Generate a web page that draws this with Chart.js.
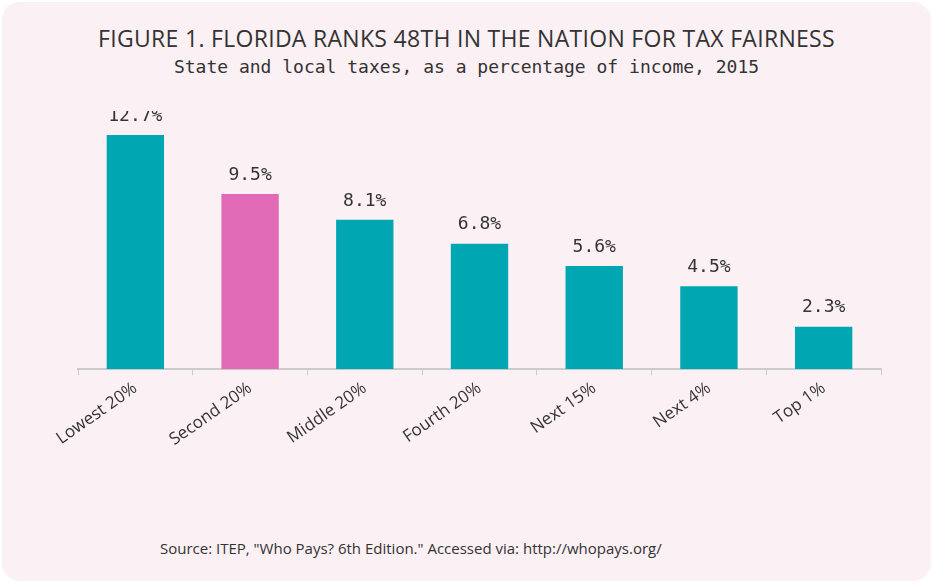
<!DOCTYPE html>
<html><head><meta charset="utf-8">
<script src="https://cdn.jsdelivr.net/npm/chart.js@4"></script>
<style>
body{margin:0;background:#fff;}
.card{position:absolute;left:2px;top:2px;width:929px;height:579px;background:#fbf0f3;border-radius:18px;}
h1{position:absolute;top:22px;left:0;width:100%;text-align:center;margin:0;font:500 23px "Open Sans",sans-serif;color:#333;letter-spacing:0.3px}
h2{position:absolute;top:56px;left:0;width:100%;text-align:center;margin:0;font:400 18px "DejaVu Sans Mono",monospace;color:#333}
.src{position:absolute;top:538px;left:160px;font:15px "Open Sans",sans-serif;color:#333}
#wrap{position:absolute;left:0;top:111px;width:933px;height:342px}
</style></head><body>
<div class="card"></div>
<h1>FIGURE 1. FLORIDA RANKS 48TH IN THE NATION FOR TAX FAIRNESS</h1>
<h2>State and local taxes, as a percentage of income, 2015</h2>
<div id="wrap"><canvas id="c"></canvas></div>
<div class="src">Source: ITEP, "Who Pays? 6th Edition." Accessed via: http://whopays.org/</div>
<script>
const categories = ['Lowest 20%', 'Second 20%', 'Middle 20%', 'Fourth 20%', 'Next 15%', 'Next 4%', 'Top 1%'];
const taxRates = [12.7, 9.5, 8.1, 6.8, 5.6, 4.5, 2.3];
const barColors = ['#00a6b1', '#e16bb6', '#00a6b1', '#00a6b1', '#00a6b1', '#00a6b1', '#00a6b1'];

// Value labels above each bar
const valueLabels = {
    id: 'valueLabels',
    afterDatasetsDraw(chart) {
        const ctx = chart.ctx;
        ctx.save();
        ctx.font = '18px "DejaVu Sans Mono", monospace';
        ctx.fillStyle = '#333';
        ctx.textAlign = 'center';
        ctx.textBaseline = 'bottom';
        chart.getDatasetMeta(0).data.forEach((bar, i) => {
            ctx.fillText(taxRates[i].toFixed(1) + '%', bar.x, bar.y - 10);
        });
        ctx.restore();
    }
};

new Chart(document.getElementById('c'), {
    type: 'bar',
    data: {
        labels: categories,
        datasets: [{ data: taxRates, backgroundColor: barColors, barPercentage: 0.5, categoryPercentage: 1 }]
    },
    options: {
        responsive: true,
        maintainAspectRatio: false,
        animation: false,
        layout: { padding: { left: 78, right: 52, top: 0, bottom: 0 } },
        plugins: { legend: { display: false }, tooltip: { enabled: false } },
        scales: {
            y: { display: false, min: 0, max: 14 },
            x: {
                grid: { drawOnChartArea: false, color: '#ccc', tickLength: 6, offset: true },
                border: { color: '#ccc', width: 2 },
                ticks: { color: '#333', font: { family: '"Open Sans", sans-serif', size: 17 }, maxRotation: 35, minRotation: 35 }
            }
        }
    },
    plugins: [valueLabels]
});
</script>
</body></html>
